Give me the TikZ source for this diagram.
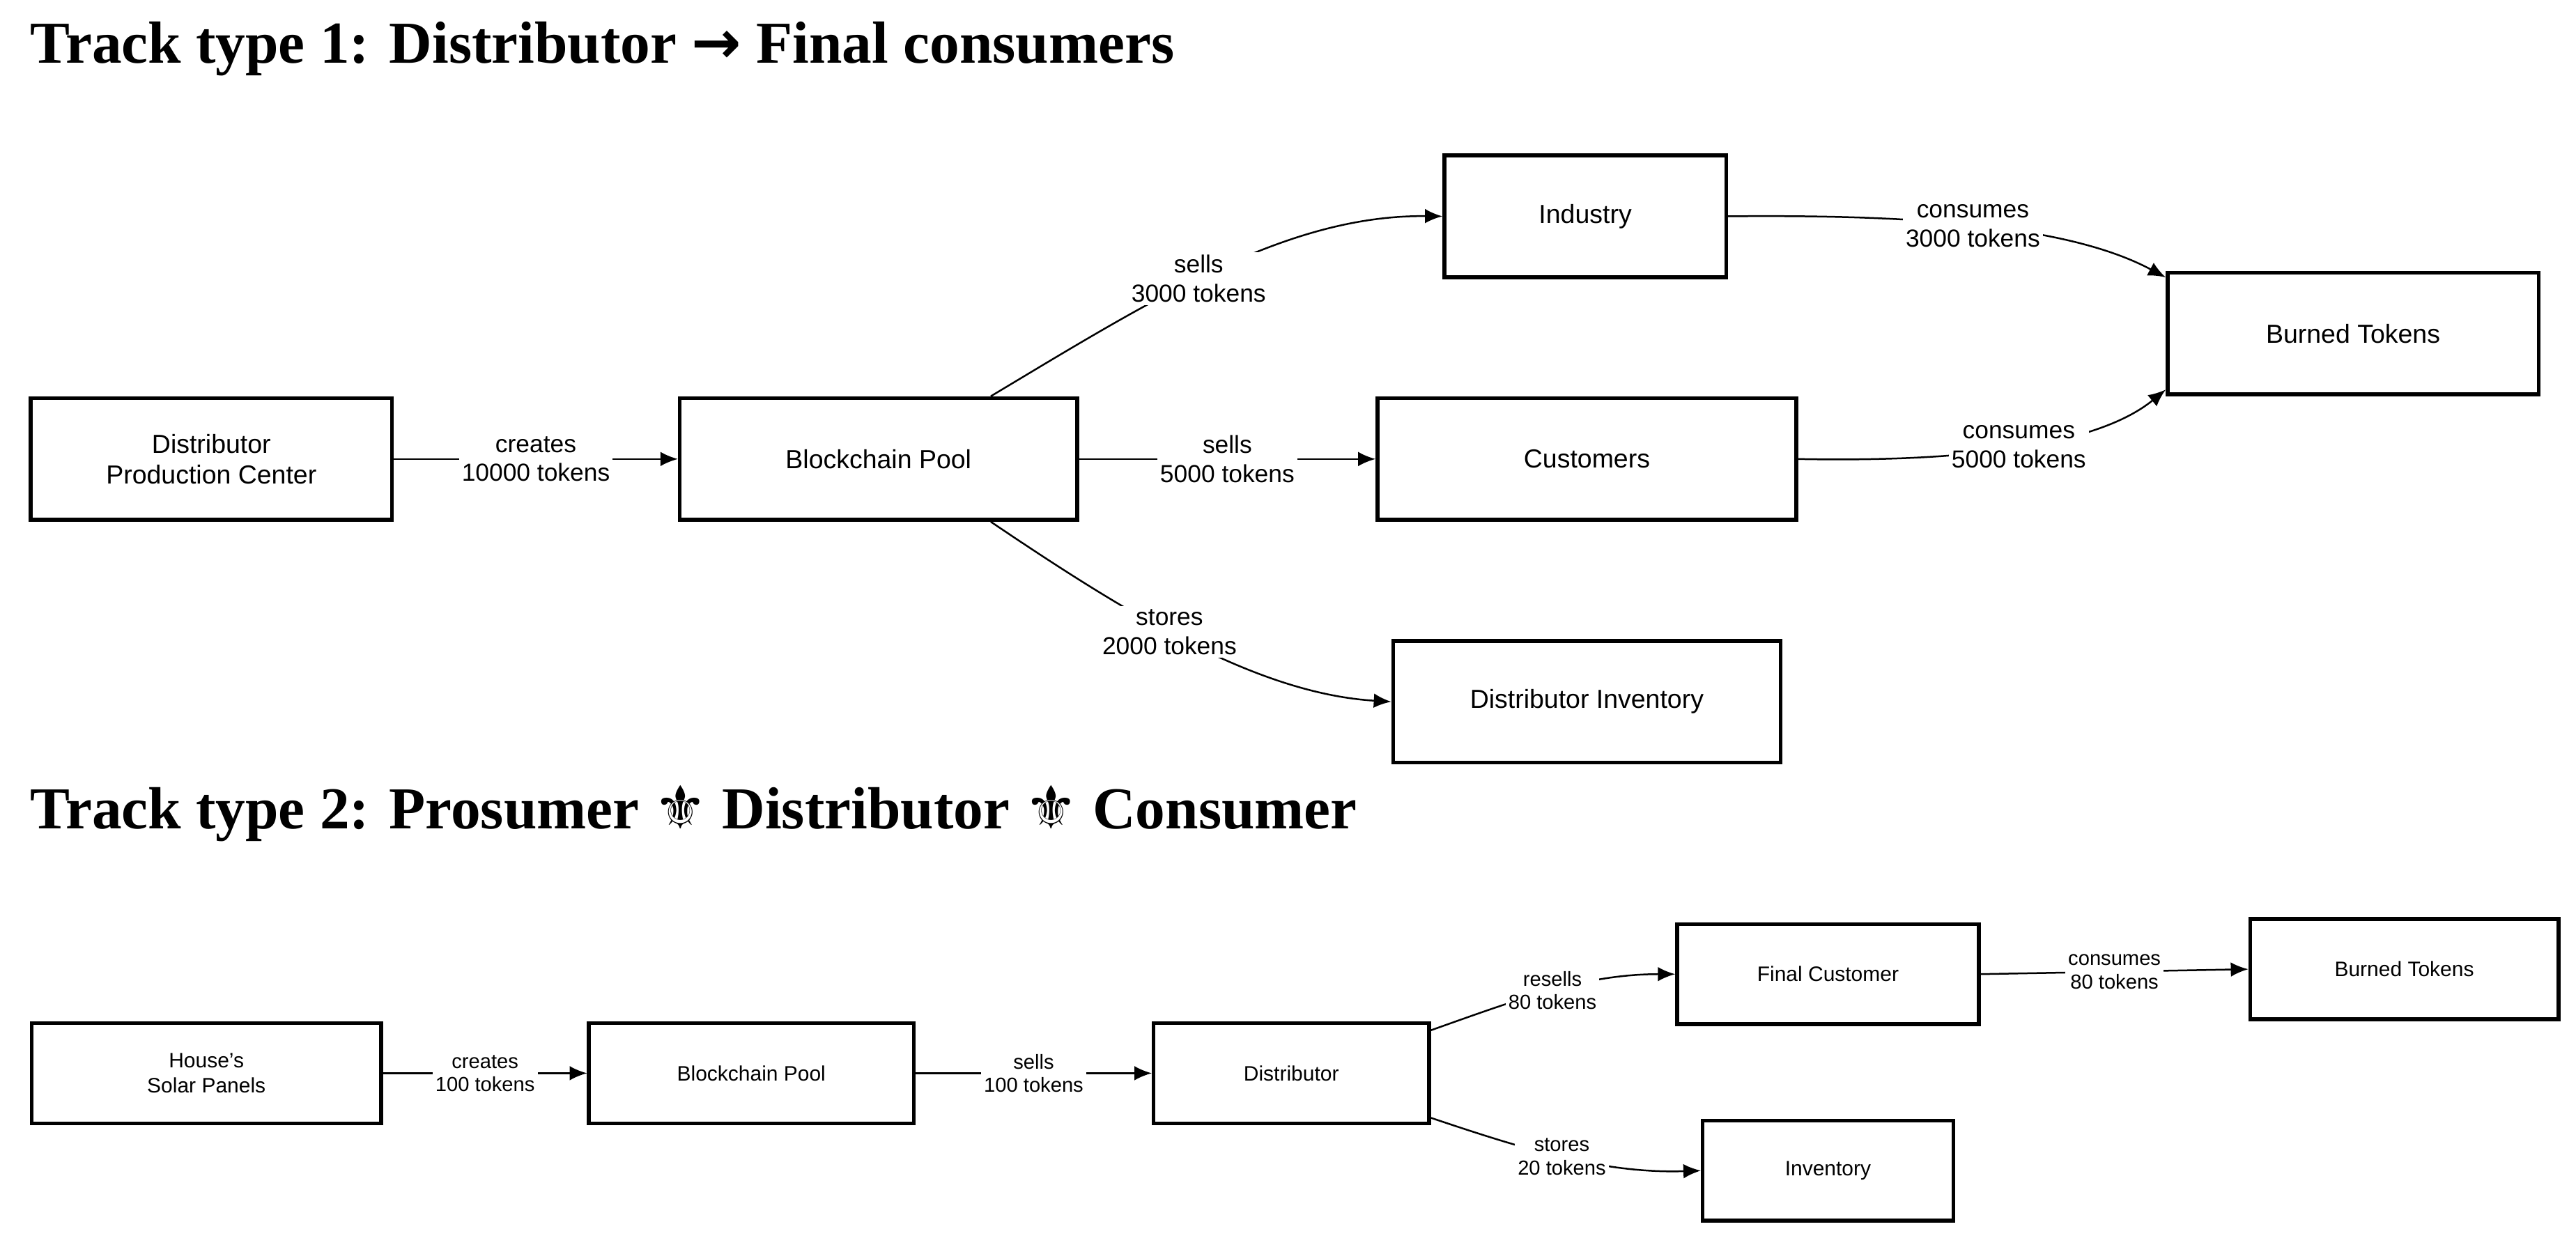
\documentclass[tikz,border=0pt]{standalone}
\usepackage{fontspec}
\setmainfont{Liberation Sans}
\newfontfamily\ttl{Liberation Serif}
\newfontfamily\sym{DejaVu Sans}
\usetikzlibrary{arrows.meta}
\begin{document}
\begin{tikzpicture}[x=0.02cm,y=-0.02cm,
 box/.style={draw,line width=1.3pt,minimum width=#1*0.02cm-1.3pt,align=center,inner sep=0pt},
 b1/.style={box=#1,minimum height=76*0.02cm-1.3pt,font=\fontsize{9}{10.5}\selectfont},
 b2/.style={box=#1,minimum height=63*0.02cm-1.3pt,font=\fontsize{7.2}{8.5}\selectfont},
 ar/.style={-{Latex[length=6pt,width=5pt]},line width=0.6pt},
 lb/.style={fill=white,align=center,inner sep=1pt,font=\fontsize{8.5}{10}\selectfont},
 lb2/.style={fill=white,align=center,inner sep=1pt,font=\fontsize{7}{8}\selectfont},
 tt/.style={anchor=base west,font=\ttl\bfseries\fontsize{20.5}{24}\selectfont,inner sep=0pt}]
\useasboundingbox (0,0) rectangle (1560,754);
\node[tt] (t1) at (18,38) {Track type 1: Distributor {\sym\bfseries →} Final consumers};
\node[tt] (t2) at (18,502) {Track type 2: Prosumer {\sym ⚜} Distributor {\sym ⚜} Consumer};
% track 1
\node[b1=221] (dpc) at (128,278) {Distributor\\Production Center};
\node[b1=243] (bp) at (532,278) {Blockchain Pool};
\node[b1=173] (ind) at (960,131) {Industry};
\node[b1=256] (cus) at (961,278) {Customers};
\node[b1=237] (di) at (961,425) {Distributor Inventory};
\node[b1=227] (bt) at (1425,202) {Burned Tokens};
\draw[ar] (dpc) -- node[lb]{creates\\10000 tokens} (bp);
\draw[ar] (bp) -- node[lb]{sells\\5000 tokens} (cus);
\draw[ar] (bp.north)++(68,0) .. controls (700,180) and (780,130) .. node[lb,pos=0.45]{sells\\3000 tokens} (ind.west);
\draw[ar] (bp.south)++(68,0) .. controls (680,370) and (760,420) .. node[lb,pos=0.45]{stores\\2000 tokens} (di.west);
\draw[ar] (ind.east) .. controls (1150,130) and (1250,135) .. node[lb,pos=0.5]{consumes\\3000 tokens} ([yshift=34*0.02cm]bt.west);
\draw[ar] (cus.east) .. controls (1190,280) and (1270,270) .. node[lb,pos=0.5]{consumes\\5000 tokens} ([yshift=-34*0.02cm]bt.west);
% track 2
\node[b2=214] (hs) at (125,650) {House's\\Solar Panels};
\node[b2=199] (bp2) at (455,650) {Blockchain Pool};
\node[b2=169] (ds) at (782,650) {Distributor};
\node[b2=185] (fc) at (1107,590) {Final Customer};
\node[b2=189] (bt2) at (1456,587) {Burned Tokens};
\node[b2=154] (inv) at (1107,709) {Inventory};
\draw[ar] (hs) -- node[lb2]{creates\\100 tokens} (bp2);
\draw[ar] (bp2) -- node[lb2]{sells\\100 tokens} (ds);
\draw[ar] ([yshift=26*0.02cm]ds.east) .. controls (920,605) and (960,590) .. node[lb2,pos=0.5]{resells\\80 tokens} (fc.west);
\draw[ar] ([yshift=-27*0.02cm]ds.east) .. controls (920,695) and (970,711) .. node[lb2,pos=0.5]{stores\\20 tokens} (inv.west);
\draw[ar] (fc.east) -- node[lb2]{consumes\\80 tokens} (bt2.west);
\end{tikzpicture}
\end{document}
